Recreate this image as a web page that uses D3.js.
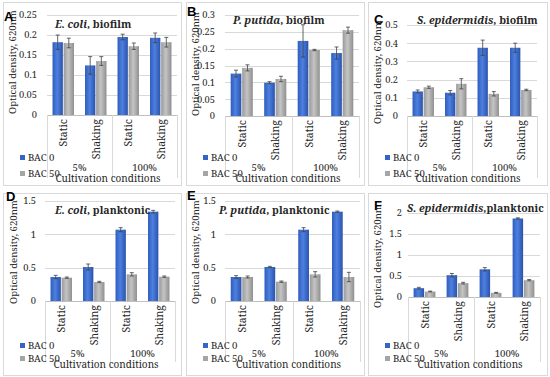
<!DOCTYPE html>
<html>
<head>
<meta charset="utf-8">
<script src="https://cdn.jsdelivr.net/npm/d3@7"></script>
<style>
  body { margin: 0; background: #fff; }
  svg text { font-family: "Noto Serif", "Liberation Serif", "DejaVu Serif", serif; fill: #262626; }
  svg text.letter { font-family: "Liberation Sans", Arial, sans-serif; font-weight: bold; fill: #000; }
</style>
</head>
<body>
<div class="chart"></div>
<script>
// categories and series
var categories = ["Static", "Shaking", "Static", "Shaking"];
var groups = ["5%", "100%"];
var seriesNames = ["BAC 0", "BAC 50"];

// y tick values per panel
var ticksA = [0, 0.05, 0.1, 0.15, 0.2, 0.25];
var ticksB = [0, 0.05, 0.1, 0.15, 0.2, 0.25, 0.3];
var ticksC = [0, 0.1, 0.2, 0.3, 0.4, 0.5];
var ticksD = [0, 0.5, 1, 1.5];
var ticksE = [0, 0.5, 1, 1.5];
var ticksF = [0, 0.5, 1, 1.5, 2];

// A: E. coli, biofilm
var bac0A = [0.182, 0.124, 0.195, 0.193];
var err0A = [0.018, 0.022, 0.007, 0.012];
var bac50A = [0.180, 0.135, 0.172, 0.182];
var err50A = [0.012, 0.011, 0.008, 0.012];

// B: P. putida, biofilm
var bac0B = [0.126, 0.099, 0.223, 0.187];
var err0B = [0.010, 0.003, 0.048, 0.018];
var bac50B = [0.143, 0.110, 0.196, 0.255];
var err50B = [0.009, 0.008, 0.002, 0.009];

// C: S. epidermidis, biofilm
var bac0C = [0.135, 0.128, 0.375, 0.375];
var err0C = [0.008, 0.012, 0.042, 0.025];
var bac50C = [0.158, 0.177, 0.122, 0.143];
var err50C = [0.006, 0.028, 0.012, 0.004];

// D: E. coli, planktonic
var bac0D = [0.36, 0.51, 1.07, 1.34];
var err0D = [0.025, 0.045, 0.03, 0.02];
var bac50D = [0.35, 0.285, 0.40, 0.365];
var err50D = [0.01, 0.01, 0.025, 0.01];

// E: P. putida, planktonic
var bac0E = [0.36, 0.51, 1.07, 1.34];
var err0E = [0.02, 0.01, 0.03, 0.01];
var bac50E = [0.36, 0.29, 0.40, 0.36];
var err50E = [0.015, 0.01, 0.04, 0.07];

// F: S. epidermidis, planktonic
var bac0F = [0.21, 0.52, 0.66, 1.87];
var err0F = [0.02, 0.04, 0.04, 0.015];
var bac50F = [0.13, 0.33, 0.10, 0.40];
var err50F = [0.01, 0.02, 0.01, 0.015];

// rows of labels under the plots (top row, bottom row)
var rowLayout = [
  { leg0: 161, leg50: 177, group: 171, title: 182, sepEnd: 178 },
  { leg0: 349, leg50: 362, group: 357, title: 368, sepEnd: 362 }
];

// layout of each panel (frame, plot box, label spots)
var panels = [
  { letter: "A", species: "E. coli", kind: ", biofilm", bac0: bac0A, err0: err0A, bac50: bac50A, err50: err50A, ticks: ticksA,
    frame: [3, 2, 178, 183], l: 47, r: 177, t: 15, b: 115, pad: 10, titleX: 55, titleY: 28, letterX: 4, letterY: 21, yTitleX: 16, yTitleY: 62, row: 0 },
  { letter: "B", species: "P. putida", kind: ", biofilm", bac0: bac0B, err0: err0B, bac50: bac50B, err50: err50B, ticks: ticksB,
    frame: [186, 2, 178, 183], l: 225, r: 359, t: 15, b: 116, pad: 10, titleX: 233, titleY: 24, letterX: 187, letterY: 16, yTitleX: 199, yTitleY: 64, row: 0 },
  { letter: "C", species: "S. epidermidis", kind: ", biofilm", bac0: bac0C, err0: err0C, bac50: bac50C, err50: err50C, ticks: ticksC,
    frame: [368, 2, 179, 183], l: 407, r: 537, t: 25, b: 116, pad: 9, titleX: 417, titleY: 24, letterX: 374, letterY: 24, yTitleX: 381, yTitleY: 72, row: 0 },
  { letter: "D", species: "E. coli", kind: ", planktonic", bac0: bac0D, err0: err0D, bac50: bac50D, err50: err50D, ticks: ticksD,
    frame: [3, 193, 178, 182], l: 45, r: 175, t: 201, b: 301, pad: 9, titleX: 55, titleY: 214, letterX: 6, letterY: 201, yTitleX: 17, yTitleY: 252, row: 1 },
  { letter: "E", species: "P. putida", kind: ", planktonic", bac0: bac0E, err0: err0E, bac50: bac50E, err50: err50E, ticks: ticksE,
    frame: [186, 193, 178, 182], l: 225, r: 360, t: 201, b: 301, pad: 9, titleX: 219, titleY: 214, letterX: 187, letterY: 200, yTitleX: 199, yTitleY: 252, row: 1 },
  { letter: "F", species: "S. epidermidis", kind: ",planktonic", bac0: bac0F, err0: err0F, bac50: bac50F, err50: err50F, ticks: ticksF,
    frame: [368, 193, 179, 182], l: 408, r: 540, t: 213, b: 297, pad: 6, titleX: 407, titleY: 212, letterX: 374, letterY: 210, yTitleX: 381, yTitleY: 256, row: 1 }
];

var serif = "'Noto Serif', 'Liberation Serif', 'DejaVu Serif', serif";

var svg = d3.select(".chart").append("svg")
  .attr("width", 550)
  .attr("height", 377)
  .attr("font-family", serif);

svg.append("rect").attr("width", 550).attr("height", 377).attr("fill", "#fff");

// bar gradients
var defs = svg.append("defs");
function addGradient(id, stops) {
  var g = defs.append("linearGradient").attr("id", id)
    .attr("x1", "0%").attr("x2", "100%").attr("y1", "0%").attr("y2", "0%");
  stops.forEach(function(s) {
    g.append("stop").attr("offset", s[0]).attr("stop-color", s[1]);
  });
}
addGradient("blueGrad", [["0%", "#2f5cbd"], ["45%", "#4d80e0"], ["100%", "#2a53ad"]]);
addGradient("grayGrad", [["0%", "#9a9a9a"], ["45%", "#c4c4c4"], ["100%", "#8f8f8f"]]);
var fills = ["url(#blueGrad)", "url(#grayGrad)"];
var legendColors = ["#3564c6", "#a5a5a5"];

panels.forEach(function(p) {
  var g = svg.append("g");
  var rl = rowLayout[p.row];

  // panel frame
  g.append("rect")
    .attr("x", p.frame[0] + 0.5).attr("y", p.frame[1] + 0.5)
    .attr("width", p.frame[2]).attr("height", p.frame[3])
    .attr("fill", "none").attr("stroke", "#d9d9d9");

  var maxTick = p.ticks[p.ticks.length - 1];
  var y = d3.scaleLinear().domain([0, maxTick]).range([p.b, p.t]);

  var x0 = d3.scaleBand().domain(d3.range(categories.length)).range([p.l, p.r]).padding(0);
  var bw = x0.bandwidth();
  var x1 = d3.scaleBand().domain([0, 1]).range([bw * 0.17, bw * 0.83]).paddingInner(0.07);

  // gridlines
  g.append("g").selectAll("line")
    .data(p.ticks.slice(1))
    .enter().append("line")
    .attr("x1", p.l).attr("x2", p.r)
    .attr("y1", function(d) { return Math.round(y(d)) + 0.5; })
    .attr("y2", function(d) { return Math.round(y(d)) + 0.5; })
    .attr("stroke", "#d9d9d9");

  // y axis labels
  var yAxis = d3.axisLeft(y).tickValues(p.ticks).tickSize(0).tickPadding(p.pad)
    .tickFormat(function(d) { return String(d); });
  var ya = g.append("g").attr("transform", "translate(" + p.l + ",0)").call(yAxis)
    .attr("font-family", serif).attr("font-size", 9.3);
  ya.select(".domain").remove();
  ya.selectAll("text").attr("fill", "#404040");

  // y title
  g.append("text")
    .attr("transform", "translate(" + p.yTitleX + "," + p.yTitleY + ") rotate(-90)")
    .attr("text-anchor", "middle")
    .attr("font-size", 9.6)
    .text("Optical density, 620nm");

  // bars
  var rows = [[p.bac0, p.err0], [p.bac50, p.err50]];
  rows.forEach(function(row, si) {
    var vals = row[0], errs = row[1];
    g.append("g").selectAll("rect")
      .data(vals)
      .enter().append("rect")
      .attr("x", function(d, i) { return x0(i) + x1(si); })
      .attr("width", x1.bandwidth())
      .attr("y", function(d) { return y(d); })
      .attr("height", function(d) { return y(0) - y(d); })
      .attr("fill", fills[si]);

    // error bars
    var eg = g.append("g").attr("stroke", "#404040").attr("stroke-width", 0.8);
    vals.forEach(function(v, i) {
      var cx = x0(i) + x1(si) + x1.bandwidth() / 2;
      var top = y(v + errs[i]), bot = y(v - errs[i]);
      eg.append("line").attr("x1", cx).attr("x2", cx).attr("y1", top).attr("y2", bot);
      eg.append("line").attr("x1", cx - 2).attr("x2", cx + 2).attr("y1", top).attr("y2", top);
      eg.append("line").attr("x1", cx - 2).attr("x2", cx + 2).attr("y1", bot).attr("y2", bot);
    });
  });

  // zero axis line
  g.append("line")
    .attr("x1", p.l).attr("x2", p.r)
    .attr("y1", Math.round(y(0)) + 0.5).attr("y2", Math.round(y(0)) + 0.5)
    .attr("stroke", "#bfbfbf");

  // category separators
  var seps = [p.l, x0(2), p.r];
  g.append("g").selectAll("line")
    .data(seps)
    .enter().append("line")
    .attr("x1", function(d) { return Math.round(d) + 0.5; })
    .attr("x2", function(d) { return Math.round(d) + 0.5; })
    .attr("y1", p.b)
    .attr("y2", rl.sepEnd)
    .attr("stroke", "#d9d9d9");

  // category labels
  g.append("g").selectAll("text")
    .data(categories)
    .enter().append("text")
    .attr("transform", function(d, i) {
      return "translate(" + (x0(i) + bw / 2 + 4) + "," + (p.b + 4) + ") rotate(-90)";
    })
    .attr("text-anchor", "end")
    .attr("font-size", 10.5)
    .text(function(d) { return d; });

  // group labels
  g.append("g").selectAll("text")
    .data(groups)
    .enter().append("text")
    .attr("x", function(d, i) { return x0(i * 2) + bw; })
    .attr("y", rl.group)
    .attr("text-anchor", "middle")
    .attr("font-size", 9.6)
    .text(function(d) { return d; });

  // x title
  g.append("text")
    .attr("x", (p.l + p.r) / 2 - 4)
    .attr("y", rl.title)
    .attr("text-anchor", "middle")
    .attr("font-size", 10)
    .text("Cultivation conditions");

  // legend
  var legY = [rl.leg0, rl.leg50];
  seriesNames.forEach(function(name, si) {
    g.append("rect")
      .attr("x", p.frame[0] + 17).attr("y", legY[si] - 6)
      .attr("width", 5).attr("height", 5)
      .attr("fill", legendColors[si]);
    g.append("text")
      .attr("x", p.frame[0] + 25).attr("y", legY[si])
      .attr("font-size", 9.6)
      .text(name);
  });

  // title
  var t = g.append("text")
    .attr("x", p.titleX).attr("y", p.titleY)
    .attr("font-size", 10.5)
    .attr("font-weight", "bold")
    .attr("fill", "#000");
  t.append("tspan").attr("font-style", "italic").text(p.species);
  t.append("tspan").text(p.kind);

  // panel letter
  g.append("text")
    .attr("class", "letter")
    .attr("x", p.letterX).attr("y", p.letterY)
    .attr("font-size", 13)
    .text(p.letter);
});
</script>
</body>
</html>
